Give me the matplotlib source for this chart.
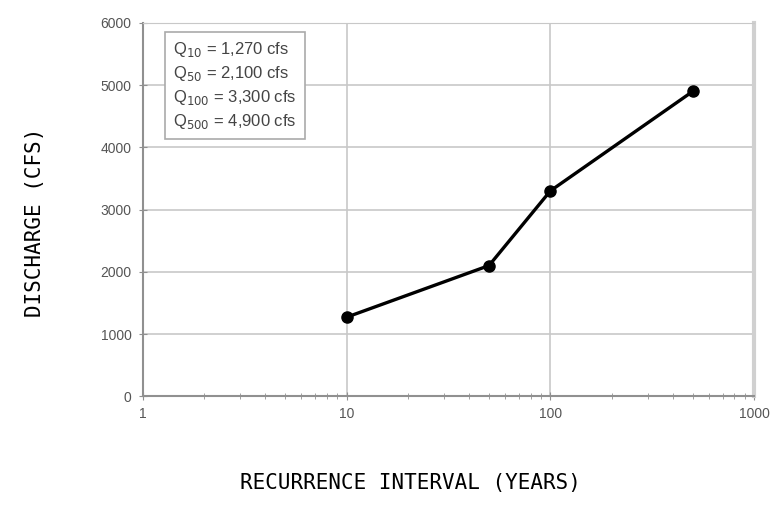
import matplotlib
matplotlib.use('Agg')
import matplotlib.pyplot as plt
from matplotlib.ticker import FixedLocator, NullFormatter, LogLocator

# Data
recurrence = [10, 50, 100, 500]
discharge = [1270, 2100, 3300, 4900]
box_lines = [r'Q$_{10}$ = 1,270 cfs', r'Q$_{50}$ = 2,100 cfs',
             r'Q$_{100}$ = 3,300 cfs', r'Q$_{500}$ = 4,900 cfs']
x_ticks = [1, 10, 100, 1000]
y_ticks = [0, 1000, 2000, 3000, 4000, 5000, 6000]

fig = plt.figure(figsize=(7.84, 5.08), dpi=100)
ax = fig.add_axes([0.182, 0.22, 0.780, 0.735])

ax.plot(recurrence, discharge, '-o', color='black', lw=2.4, ms=8, zorder=3)
ax.set_xscale('log')
ax.set_xlim(1, 1000)
ax.set_ylim(0, 6000)
ax.xaxis.set_major_locator(FixedLocator(x_ticks))
ax.set_xticklabels([str(t) for t in x_ticks])
ax.xaxis.set_minor_locator(LogLocator(base=10, subs=range(2, 10)))
ax.xaxis.set_minor_formatter(NullFormatter())
ax.set_yticks(y_ticks)

ax.grid(True, which='major', color='#c8c8c8', lw=1.2)
ax.set_axisbelow(True)
ax.spines['top'].set_color('#c8c8c8')
ax.spines['right'].set_color('#d0d0d0')
ax.spines['right'].set_linewidth(3)
for s in ['left', 'bottom']:
    ax.spines[s].set_color('#909090')
    ax.spines[s].set_linewidth(1.5)
ax.tick_params(which='both', direction='inout', colors='#909090', labelcolor='#555555',
               labelsize=10, pad=5)
ax.tick_params(which='major', length=6)
ax.tick_params(which='minor', length=4)
for lab in ax.get_xticklabels() + ax.get_yticklabels():
    lab.set_family('Liberation Sans')

ax.text(0.05, 0.953, '\n'.join(box_lines), transform=ax.transAxes, va='top', ha='left',
        fontsize=12, color='#444444', family='Liberation Sans', linespacing=1.35,
        bbox=dict(boxstyle='square,pad=0.5', fc='white', ec='#aaaaaa', lw=1.2))

fig.text(0.524, 0.049, 'RECURRENCE INTERVAL (YEARS)', ha='center', va='center',
         family='DejaVu Sans Mono', fontsize=15)
fig.text(0.045, 0.563, 'DISCHARGE (CFS)', ha='center', va='center', rotation=90,
         family='DejaVu Sans Mono', fontsize=15)

fig.savefig('out.png', dpi=100)
